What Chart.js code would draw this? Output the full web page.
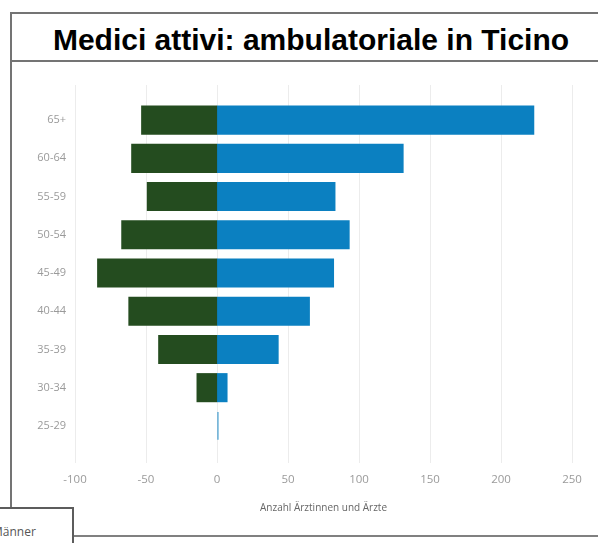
<!DOCTYPE html>
<html>
<head>
<meta charset="utf-8">
<script src="https://cdn.jsdelivr.net/npm/chart.js@4/dist/chart.umd.min.js"></script>
<style>
  html, body { margin: 0; padding: 0; background: #fff; overflow: hidden; }
  #wrap { position: relative; width: 598px; height: 543px; }
  #chart { position: absolute; left: 0; top: 0; }
  .titlebox {
    position: absolute; left: 10px; top: 12px; width: 600px; height: 46px;
    border: 2px solid #747474; border-right: none;
  }
  .titlebox span {
    position: absolute; left: 0; width: 598px; top: 9px; text-align: center;
    font: bold 30px "Liberation Sans", Arial, sans-serif; color: #000;
  }
  .leftline { position: absolute; left: 10px; top: 60px; width: 2px; height: 448px; background: #747474; }
  .bottomline { position: absolute; left: 70px; top: 535px; width: 540px; height: 2px; background: #808080; }
  .legend {
    position: absolute; left: -4px; top: 507px; width: 74px; height: 50px;
    border: 2px solid #5c5c5c; background: #fff;
  }
  .legend span {
    position: absolute; left: -6px; top: 14px;
    font: 12px "Open Sans", sans-serif; color: #555;
  }
</style>
</head>
<body>
<div id="wrap">
  <div class="titlebox"><span>Medici attivi: ambulatoriale in Ticino</span></div>
  <div class="leftline"></div>
  <div class="bottomline"></div>
  <canvas id="chart" width="598" height="543"></canvas>
  <div class="legend"><span>Männer</span></div>
</div>
<script>
// Age groups, top to bottom
const ageGroups = ['65+', '60-64', '55-59', '50-54', '45-49', '40-44', '35-39', '30-34', '25-29'];

// Left side (negative) and right side (positive) counts
const greenValues = [-53, -60, -49, -67, -84, -62, -41, -14, 0];
const blueValues = [223, 131, 83, 93, 82, 65, 43, 7, 1];

// Value axis ticks
const axisMin = -100;
const axisMax = 250;
const axisStep = 50;
const axisTitle = 'Anzahl Ärztinnen und Ärzte';

const gridColor = '#ececec';
const tickColor = '#9a9a9a';

// small overlap closes the light seam at zero; skip it for tiny bars
const inflate = ctx => Math.abs(ctx.raw) < 2 ? 0 : 0.6;

new Chart(document.getElementById('chart').getContext('2d'), {
    type: 'bar',
    data: {
        labels: ageGroups,
        datasets: [{
            label: 'Männer',
            data: greenValues,
            backgroundColor: '#244c1f',
            categoryPercentage: 1,
            barPercentage: 0.73,
            inflateAmount: inflate
        }, {
            label: 'Frauen',
            data: blueValues,
            backgroundColor: '#0b80c1',
            categoryPercentage: 1,
            barPercentage: 0.73,
            inflateAmount: inflate
        }]
    },
    options: {
        responsive: false,
        animation: false,
        indexAxis: 'y',
        // right padding chosen so the zero line falls on a whole pixel
        layout: { padding: { top: 85, right: 26, left: 0, bottom: 0 } },
        plugins: {
            legend: { display: false },
            tooltip: { enabled: false }
        },
        scales: {
            y: {
                stacked: true,
                grid: { display: false, drawTicks: false },
                border: { display: false },
                ticks: {
                    padding: 9,
                    color: tickColor,
                    font: { family: 'Open Sans', size: 11 }
                },
                afterFit: s => { s.width = 75; }
            },
            x: {
                stacked: true,
                min: axisMin,
                max: axisMax,
                grid: { color: gridColor, tickLength: 18 },
                border: { display: false },
                ticks: {
                    stepSize: axisStep,
                    padding: 10,
                    color: tickColor,
                    font: { family: 'Open Sans', size: 11.5 }
                },
                title: {
                    display: true,
                    text: axisTitle,
                    color: '#666',
                    font: { family: 'Open Sans', size: 10 },
                    padding: { top: 0, bottom: 29 }
                },
                afterFit: s => { s.height = 98; }
            },
            x2: {
                type: 'linear',
                position: 'top',
                min: axisMin,
                max: axisMax,
                grid: { color: gridColor, drawOnChartArea: false, tickLength: 16 },
                border: { display: false },
                ticks: { display: false, stepSize: axisStep },
                afterFit: s => { s.height = 16; }
            }
        }
    }
});
</script>
</body>
</html>
